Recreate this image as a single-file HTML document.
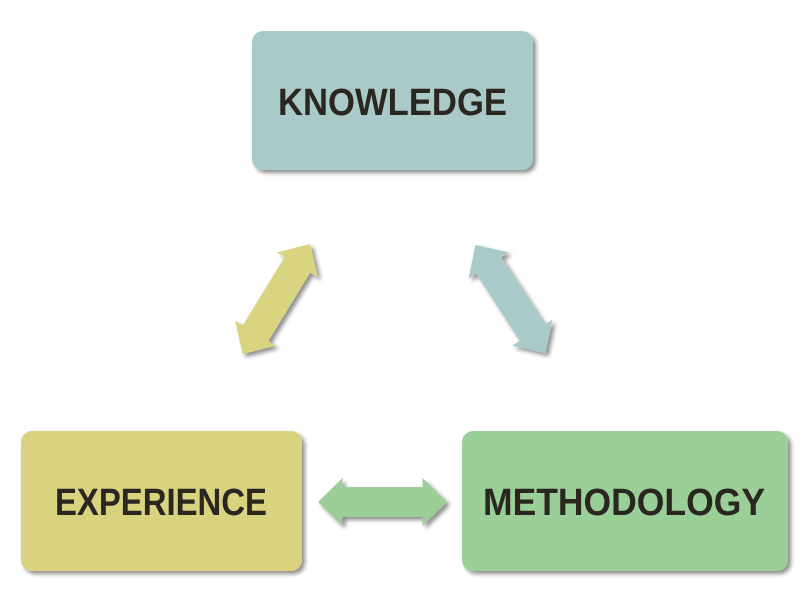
<!DOCTYPE html>
<html>
<head>
<meta charset="utf-8">
<style>
  html, body { margin:0; padding:0; background:#ffffff; }
  body { width:811px; height:595px; overflow:hidden; }
  svg { display:block; }
  text { font-family: "Liberation Sans", Arial, sans-serif; font-weight:bold; fill:#2a2720; }
</style>
</head>
<body>
<svg width="811" height="595" viewBox="0 0 811 595" xmlns="http://www.w3.org/2000/svg">
  <defs>
    <filter id="sh" x="-20%" y="-20%" width="140%" height="140%">
      <feGaussianBlur in="SourceAlpha" stdDeviation="2.2"/>
      <feOffset dx="3" dy="3" result="b"/>
      <feComponentTransfer><feFuncA type="linear" slope="0.45"/></feComponentTransfer>
      <feMerge><feMergeNode/><feMergeNode in="SourceGraphic"/></feMerge>
    </filter>
    <path id="dbl" d="M-64.5,0 L-40,-24 L-40,-15 L40,-15 L40,-24 L64.5,0 L40,24 L40,15 L-40,15 L-40,24 Z"/>
  </defs>

  <!-- Boxes -->
  <rect x="252" y="31" width="281" height="139" rx="11" ry="11" fill="#aacaca" filter="url(#sh)"/>
  <rect x="21" y="431" width="281" height="140" rx="11" ry="11" fill="#d9d27f" filter="url(#sh)"/>
  <rect x="462" y="431" width="326" height="140" rx="11" ry="11" fill="#9bcf98" filter="url(#sh)"/>

  <!-- Labels -->
  <text x="278" y="115" font-size="38" textLength="229" lengthAdjust="spacingAndGlyphs">KNOWLEDGE</text>
  <text x="55" y="515" font-size="38" textLength="212" lengthAdjust="spacingAndGlyphs">EXPERIENCE</text>
  <text x="483" y="515" font-size="38" textLength="282" lengthAdjust="spacingAndGlyphs">METHODOLOGY</text>

  <!-- Arrows -->
  <g filter="url(#sh)">
    <use href="#dbl" transform="translate(276.5,299) rotate(-58.5)" fill="#d9d47f"/>
    <use href="#dbl" transform="translate(510.5,299) rotate(57)" fill="#aacaca"/>
    <use href="#dbl" transform="translate(382.5,502)" fill="#9ccf98"/>
  </g>
</svg>
</body>
</html>
